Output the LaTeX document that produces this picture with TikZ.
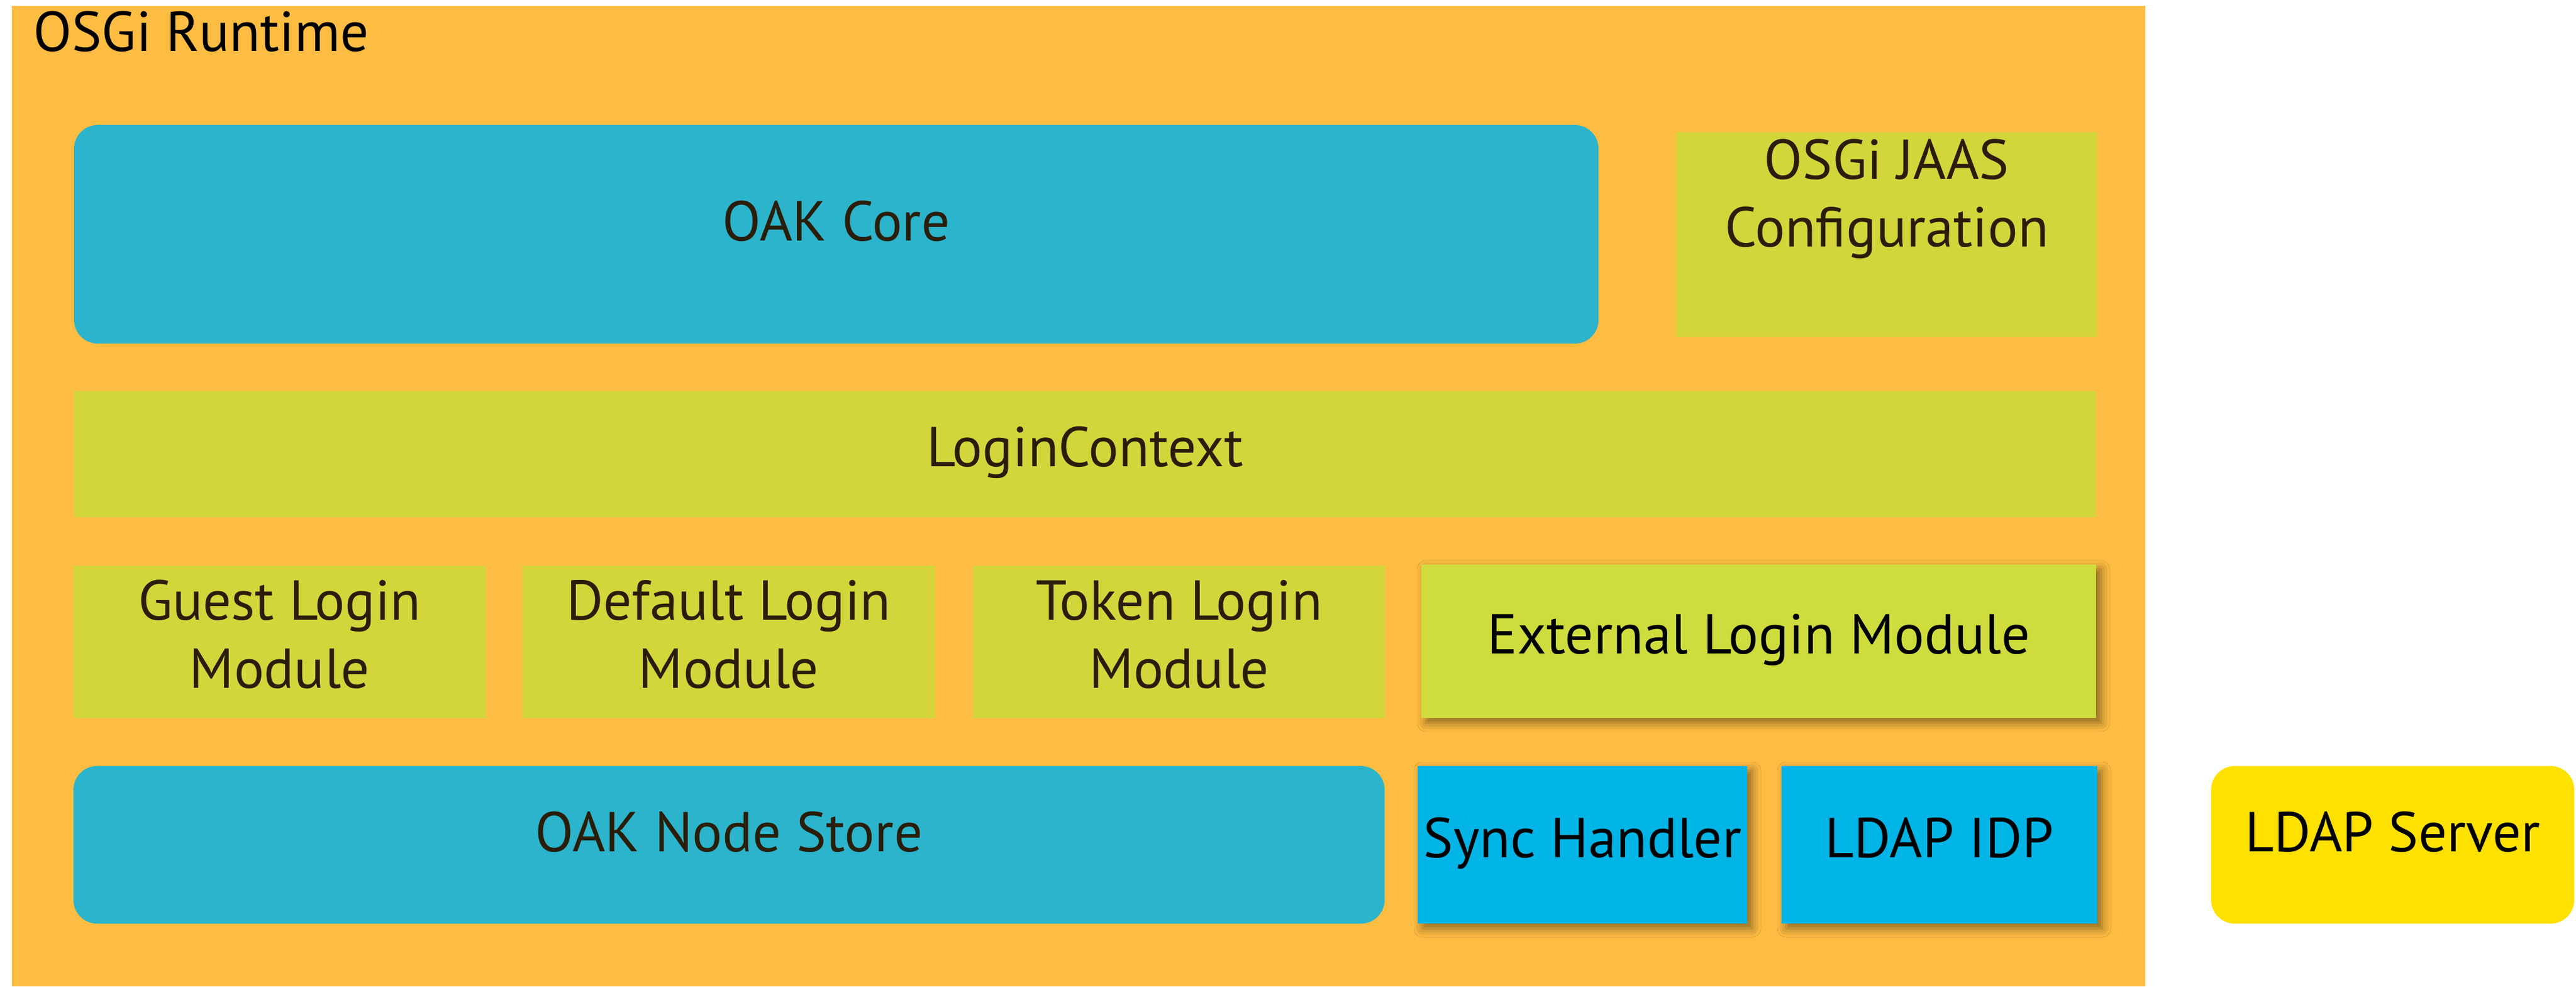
\documentclass[tikz,border=0pt]{standalone}
\usepackage{fontspec}
\setmainfont{PT Sans}
\usetikzlibrary{shapes,positioning,shadows,shadows.blur}
\definecolor{runtime}{RGB}{253,188,66}
\definecolor{oak}{RGB}{43,180,204}
\definecolor{olive}{RGB}{210,214,59}
\definecolor{extlime}{RGB}{206,220,61}
\definecolor{idp}{RGB}{0,180,230}
\definecolor{server}{RGB}{255,225,0}
\definecolor{ink}{RGB}{42,30,10}
\tikzstyle{label}=[font=\fontsize{27}{32.7}\selectfont, align=center, inner sep=0pt,
                   text height=0.7cm, text depth=0.48cm]
\tikzstyle{low}=[text height=0.7cm, text depth=0.28cm]
\tikzstyle{twolines}=[text height=1.7cm, text depth=0.15cm]
\tikzstyle{oakbox}=[label, rounded corners=0.4cm, fill=oak, text=ink]
\tikzstyle{module}=[label, fill=olive, text=ink]
\tikzstyle{ext}=[label, low, fill=extlime, text=black,
                 blur shadow={shadow xshift=0.08cm, shadow yshift=-0.08cm,
                              shadow blur radius=0.15cm, shadow opacity=45}]
\tikzstyle{sync}=[label, low, fill=idp, text=black,
                  blur shadow={shadow xshift=0.08cm, shadow yshift=-0.08cm,
                               shadow blur radius=0.15cm, shadow opacity=45}]
\begin{document}
\begin{tikzpicture}
    \useasboundingbox (0,0) rectangle (43.48,16.65);
    % runtime container
    \fill[runtime] (0.20,0) rectangle (36.21,16.55);
    \node[label, anchor=base west] (osgi) at (0.56,15.78) {OSGi Runtime};

    % top row
    \node[oakbox, minimum width=25.73cm, minimum height=3.69cm] (core) at (14.115,12.695) {OAK Core};
    \node[module, low, minimum width=7.11cm, minimum height=3.46cm] (jaas) at (31.845,12.69) {OSGi JAAS\\Configuration};
    \node[module, low, minimum width=34.13cm, minimum height=2.13cm] (context) at (18.315,8.985) {LoginContext};

    % login modules
    \node[module, twolines, minimum width=6.96cm, minimum height=2.57cm] (guest) at (4.72,5.815) {Guest Login\\Module};
    \node[module, twolines, minimum width=6.96cm, minimum height=2.57cm] (default) at (12.30,5.815) {Default Login\\Module};
    \node[module, twolines, minimum width=6.96cm, minimum height=2.57cm] (token) at (19.90,5.815) {Token Login\\Module};
    \node[ext, minimum width=11.39cm, minimum height=2.59cm] (external) at (29.685,5.825) {External Login Module};

    % bottom row
    \node[oakbox, minimum width=22.13cm, minimum height=2.66cm] (store) at (12.305,2.39) {OAK Node Store};
    \node[sync, minimum width=5.56cm, minimum height=2.66cm] (handler) at (26.71,2.39) {Sync Handler};
    \node[sync, minimum width=5.33cm, minimum height=2.66cm] (ldapidp) at (32.735,2.39) {LDAP IDP};
    \node[label, rounded corners=0.4cm, fill=server, text=black, minimum width=6.13cm, minimum height=2.66cm] (ldapserver) at (40.385,2.39) {LDAP Server};
\end{tikzpicture}
\end{document}
